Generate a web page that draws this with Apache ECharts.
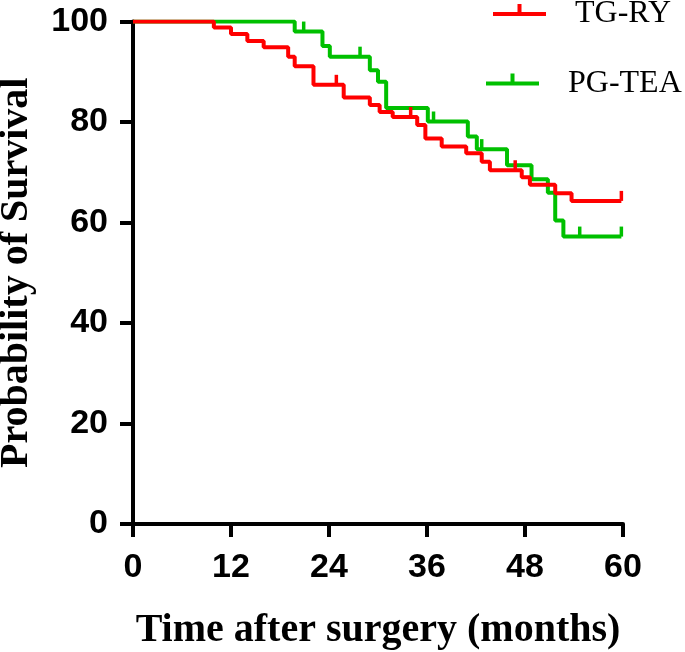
<html>
<head>
	<meta charset="utf-8">
	<script src="https://cdn.jsdelivr.net/npm/echarts@6/dist/echarts.min.js"></script>
	<style>
		html, body { margin: 0; padding: 0; background: #fff; }
		#chart { width: 685px; height: 652px; }
	</style>
</head>
<body>
<div id="chart"></div>
<script>
	// Kaplan-Meier steps (months, % surviving)
	var redTime = [0, 9.9, 12.0, 14.0, 16.0, 19.0, 19.8, 22.1, 25.8, 29.0, 30.2, 31.8, 34.8, 35.8, 37.8, 40.8, 42.7, 43.7, 47.6, 48.6, 51.7, 53.7, 59.8];
	var redSurv = [100, 98.8, 97.5, 96.1, 94.9, 93.0, 91.1, 87.4, 84.9, 83.4, 82.0, 81.0, 79.4, 76.7, 75.1, 73.8, 72.1, 70.4, 69.0, 67.5, 65.8, 64.3, 64.3];
	var redCensor = [24.9, 34.0, 46.8, 59.8];

	var greenTime = [0, 19.8, 23.2, 24.1, 29.0, 30.0, 31.0, 36.1, 41.0, 42.1, 45.8, 48.8, 50.8, 51.7, 52.7, 59.8];
	var greenSurv = [100, 98.0, 95.1, 93.0, 90.3, 88.0, 82.8, 80.1, 77.1, 74.6, 71.4, 68.6, 65.9, 60.4, 57.2, 57.2];
	var greenCensor = [20.9, 27.8, 36.8, 42.7, 54.7, 59.8];

	var groupNames = ['TG-RY', 'PG-TEA'];
	var xTicks = [0, 12, 24, 36, 48, 60];
	var yTicks = [0, 20, 40, 60, 80, 100];

	var RED = '#ff0000', GREEN = '#00c000';
	// bar with a censor tick on top; the last move keeps the box symmetric round the bar
	var legendIcon = 'path://M0,8H53V12H0Z M24.5,0H28.5V8H24.5Z M0,20';

	function pairs(t, s) {
		var out = [];
		for (var i = 0; i < t.length; i++) out.push([t[i], s[i]]);
		return out;
	}

	// survival value at a censored time = last step at or before it
	function censorPoints(c, t, s) {
		var out = [];
		for (var j = 0; j < c.length; j++) {
			var v = s[0];
			for (var i = 0; i < t.length; i++) {
				if (t[i] <= c[j]) v = s[i];
			}
			out.push([c[j], v]);
		}
		return out;
	}

	function tickSeries(name, data, color) {
		return {
			name: name,
			type: 'custom',
			data: data,
			z: 3,
			renderItem: function (params, api) {
				var p = api.coord([api.value(0), api.value(1)]);
				return {
					type: 'line',
					shape: { x1: p[0], y1: p[1], x2: p[0], y2: p[1] - 10 },
					style: { stroke: color, lineWidth: 3.5 }
				};
			}
		};
	}

	var myChart = echarts.init(document.getElementById('chart'));
	var option = {
		animation: false,
		backgroundColor: '#fff',
		grid: { left: 133, right: 62, top: 21.5, bottom: 128, outerBoundsMode: 'none', containLabel: false },
		legend: [
			{
				data: [{ name: groupNames[0], icon: legendIcon }],
				left: 493, top: -2, padding: 0,
				itemWidth: 53, itemHeight: 20,
				textStyle: { fontFamily: 'Liberation Serif', fontSize: 32, color: '#000', padding: [0, 0, 0, 24] }
			},
			{
				data: [{ name: groupNames[1], icon: legendIcon }],
				left: 486, top: 67.5, padding: 0,
				itemWidth: 53, itemHeight: 20,
				textStyle: { fontFamily: 'Liberation Serif', fontSize: 32, color: '#000', padding: [0, 0, 0, 24] }
			}
		],
		xAxis: {
			type: 'value',
			min: xTicks[0], max: xTicks[xTicks.length - 1], interval: 12,
			name: 'Time after surgery (months)',
			nameLocation: 'middle',
			nameGap: 87,
			nameTextStyle: { fontFamily: 'Liberation Serif', fontWeight: 'bold', fontSize: 40, color: '#000' },
			axisLine: { lineStyle: { color: '#000', width: 4 } },
			axisTick: { length: 13, lineStyle: { color: '#000', width: 4 } },
			axisLabel: { margin: 27, fontFamily: 'Liberation Sans', fontWeight: 'bold', fontSize: 34, color: '#000' },
			splitLine: { show: false }
		},
		yAxis: {
			type: 'value',
			min: yTicks[0], max: yTicks[yTicks.length - 1], interval: 20,
			name: 'Probability of Survival',
			nameLocation: 'middle',
			nameRotate: 90,
			nameGap: 96,
			nameTextStyle: { fontFamily: 'Liberation Serif', fontWeight: 'bold', fontSize: 40, color: '#000' },
			axisLine: { show: true, lineStyle: { color: '#000', width: 4 } },
			axisTick: { show: true, length: 13, lineStyle: { color: '#000', width: 4 } },
			axisLabel: { margin: 25, fontFamily: 'Liberation Sans', fontWeight: 'bold', fontSize: 34, color: '#000' },
			splitLine: { show: false }
		},
		series: [
			{
				name: groupNames[1],
				type: 'line',
				step: 'end',
				data: pairs(greenTime, greenSurv),
				symbol: 'none',
				color: GREEN,
				lineStyle: { color: GREEN, width: 4 },
				z: 2
			},
			tickSeries(groupNames[1], censorPoints(greenCensor, greenTime, greenSurv), GREEN),
			{
				name: groupNames[0],
				type: 'line',
				step: 'end',
				data: pairs(redTime, redSurv),
				symbol: 'none',
				color: RED,
				lineStyle: { color: RED, width: 4 },
				z: 4
			},
			tickSeries(groupNames[0], censorPoints(redCensor, redTime, redSurv), RED)
		]
	};
	myChart.setOption(option);
</script>
</body>
</html>
